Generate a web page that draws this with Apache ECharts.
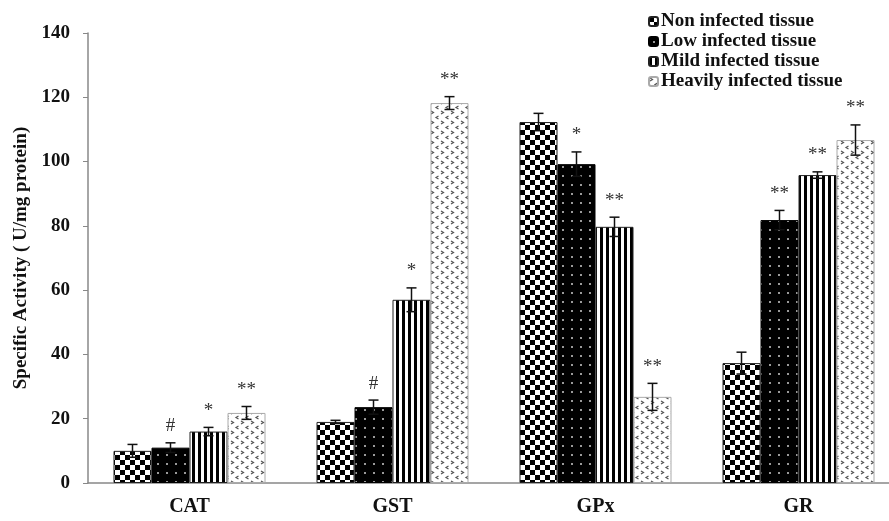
<!DOCTYPE html>
<html>
<head>
<meta charset="utf-8">
<script src="https://cdn.jsdelivr.net/npm/echarts@6/dist/echarts.min.js"></script>
<style>html,body{margin:0;padding:0;background:#fff}#c{width:889px;height:521px}</style>
</head>
<body>
<div id="c"></div>
<script>
// ---------- DATA ----------
const categories = ['CAT', 'GST', 'GPx', 'GR'];
const seriesNames = ['Non infected tissue', 'Low infected tissue', 'Mild infected tissue', 'Heavily infected tissue'];
const nonValues = [10, 19, 112.3, 37.3];
const lowValues = [11, 23.6, 99.2, 81.8];
const mildValues = [16, 57, 79.7, 95.8];
const heavyValues = [21.8, 118.2, 26.8, 106.7];
const nonErr = [2, 0.5, 2.7, 3.4];
const lowErr = [1.5, 2.2, 3.8, 3];
const mildErr = [1.3, 3.7, 3, 1];
const heavyErr = [2, 2, 4.2, 4.7];
const nonSig = ['', '', '', ''];
const lowSig = ['#', '#', '*', '**'];
const mildSig = ['*', '*', '**', '**'];
const heavySig = ['**', '**', '**', '**'];
const yTicks = [0, 20, 40, 60, 80, 100, 120, 140];

// ---------- PATTERNS (style) ----------
function mk(w, h, draw) {
  const c = document.createElement('canvas'); c.width = w; c.height = h;
  const g = c.getContext('2d'); draw(g); return c;
}
const checker = mk(10, 10, g => {
  g.fillStyle = '#fff'; g.fillRect(0, 0, 10, 10);
  g.fillStyle = '#000'; g.fillRect(0, 0, 5, 5); g.fillRect(5, 5, 5, 5);
});
const dots = mk(9, 9, g => {
  g.fillStyle = '#000'; g.fillRect(0, 0, 9, 9);
  g.fillStyle = '#9a9a9a'; g.fillRect(4, 4, 2, 2);
});
const stripes = mk(6, 6, g => {
  g.fillStyle = '#fff'; g.fillRect(0, 0, 6, 6);
  g.fillStyle = '#000'; g.fillRect(0, 0, 3, 6);
});
const chevrons = mk(10, 10, g => {
  g.fillStyle = '#fff'; g.fillRect(0, 0, 10, 10);
  g.strokeStyle = '#555'; g.lineWidth = 1.2;
  g.beginPath(); g.moveTo(1, 1); g.lineTo(3.5, 2.5); g.lineTo(1, 4); g.stroke();
  g.beginPath(); g.moveTo(8.5, 6); g.lineTo(6, 7.5); g.lineTo(8.5, 9); g.stroke();
});
const fills = [
  {image: checker, repeat: 'repeat'},
  {image: dots, repeat: 'repeat'},
  {image: stripes, repeat: 'repeat'},
  {image: chevrons, repeat: 'repeat'}
];
const borders = ['#222', '#000', '#222', '#aaa'];
const BAR_W = 38;
const FONT = '"Liberation Serif", "Times New Roman", serif';

const values = [nonValues, lowValues, mildValues, heavyValues];
const errs = [nonErr, lowErr, mildErr, heavyErr];
const sigs = [nonSig, lowSig, mildSig, heavySig];

const series = [];
values.forEach((vals, i) => {
  series.push({
    name: seriesNames[i], type: 'bar', data: vals, barWidth: BAR_W, barGap: '0%',
    itemStyle: {color: fills[i], borderColor: borders[i], borderWidth: 1},
    z: 2
  });
});
values.forEach((vals, i) => {
  series.push({
    name: 'err' + i, type: 'custom', z: 5,
    data: vals.map((v, k) => [k, v, errs[i][k]]),
    renderItem: function (params, api) {
      const k = api.value(0), v = api.value(1), e = api.value(2);
      const sig = sigs[i][k];
      const cx = api.coord([k, 0])[0] + (i - 1.5) * BAR_W;
      const yt = api.coord([k, v + e])[1];
      const yb = api.coord([k, v - e])[1];
      const st = {stroke: '#111', lineWidth: 1.5};
      const children = [
        {type: 'line', shape: {x1: cx, y1: yt, x2: cx, y2: yb}, style: st},
        {type: 'line', shape: {x1: cx - 5, y1: yt, x2: cx + 5, y2: yt}, style: st},
        {type: 'line', shape: {x1: cx - 5, y1: yb, x2: cx + 5, y2: yb}, style: st}
      ];
      if (sig) {
        children.push({type: 'text', style: {text: sig, x: cx, y: yt - 7, textAlign: 'center', textVerticalAlign: 'bottom',
          font: '19px ' + FONT, fill: '#333'}});
      }
      return {type: 'group', children: children};
    }
  });
});

const chart = echarts.init(document.getElementById('c'), null, {renderer: 'canvas'});
chart.setOption({
  animation: false,
  backgroundColor: '#fff',
  grid: {left: 88, width: 812, top: 33, bottom: 38, containLabel: false, outerBoundsMode: 'none'},
  legend: {
    data: seriesNames, orient: 'vertical', left: 643, top: 7,
    itemWidth: 9, itemHeight: 9, itemGap: 1,
    textStyle: {fontFamily: FONT, fontWeight: 'bold', fontSize: 19, color: '#111', padding: [0, 0, 0, -2]}
  },
  xAxis: {
    type: 'category', data: categories,
    axisLine: {lineStyle: {color: '#888', width: 1.5}},
    axisTick: {show: false},
    axisLabel: {fontFamily: FONT, fontWeight: 'bold', fontSize: 20, color: '#111', margin: 14}
  },
  yAxis: {
    type: 'value', min: yTicks[0], max: yTicks[yTicks.length - 1], interval: yTicks[1] - yTicks[0],
    name: 'Specific Activity ( U/mg protein)', nameLocation: 'middle', nameGap: 56,
    nameTextStyle: {fontFamily: FONT, fontWeight: 'bold', fontSize: 19, color: '#111'},
    splitLine: {show: false},
    axisLine: {show: true, lineStyle: {color: '#888', width: 1.5}},
    axisTick: {show: true, length: 5, lineStyle: {color: '#888'}},
    axisLabel: {fontFamily: FONT, fontWeight: 'bold', fontSize: 19, color: '#111', margin: 18}
  },
  series: series
});
</script>
</body>
</html>
